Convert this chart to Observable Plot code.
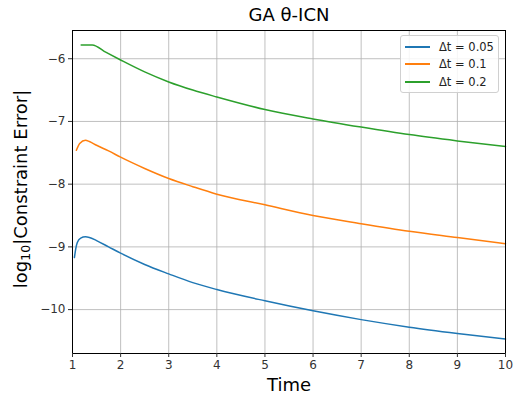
<!DOCTYPE html>
<html>
<head>
<meta charset="utf-8">
<script src="https://cdn.jsdelivr.net/npm/d3@7"></script>
<script src="https://cdn.jsdelivr.net/npm/@observablehq/plot@0.6"></script>
<style>
  body { margin: 0; background: #fff; font-family: "DejaVu Sans", sans-serif; }
  #wrap { position: relative; width: 515px; height: 396px; }
  #legend { position: absolute; left: 400px; top: 35px; width: 99px; height: 58px;
    border: 1px solid #d0d0d0; border-radius: 3px; background: rgba(255,255,255,0.85);
    font-size: 11.5px; color: #222; box-sizing: border-box; padding-top: 2px; }
  .row { display: flex; align-items: center; height: 17.5px; }
  .sw { display: inline-block; width: 25px; height: 2px; margin-left: 4px; margin-right: 9px; }
  #ylabel { position: absolute; left: 21px; top: 189px; transform: translate(-50%, -50%) rotate(-90deg);
    white-space: nowrap; font-size: 18px; color: #000; line-height: 1; }
  #ylabel sub { font-size: 12.5px; vertical-align: -3px; line-height: 0; }
</style>
</head>
<body>
<div id="wrap"><div id="chart"></div><div id="legend"></div><div id="ylabel"></div></div>
<script>
const seriesNames = ["Δt = 0.05", "Δt = 0.1", "Δt = 0.2"];
const seriesColors = ["#1f77b4", "#ff7f0e", "#2ca02c"];
const xTicks = [1, 2, 3, 4, 5, 6, 7, 8, 9, 10];
const yTicks = [-10, -9, -8, -7, -6];
const titleText = "GA θ-ICN";
const xLabel = "Time";
const yLabelParts = ["log", "10", "|Constraint Error|"];

const dt005_t = [1.04, 1.07, 1.1, 1.17, 1.27, 1.35, 1.5, 1.75, 2, 2.5, 3, 3.5, 4, 5, 6, 7, 8, 9, 10];
const dt005_e = [-9.17, -9.02, -8.93, -8.86, -8.84, -8.85, -8.9, -9.0, -9.1, -9.28, -9.43, -9.57, -9.68, -9.86, -10.02, -10.16, -10.28, -10.38, -10.47];

const dt01_t = [1.08, 1.15, 1.27, 1.35, 1.5, 1.75, 2, 2.5, 3, 3.5, 4, 5, 6, 7, 8, 9, 10];
const dt01_e = [-7.46, -7.35, -7.30, -7.32, -7.38, -7.47, -7.57, -7.75, -7.91, -8.04, -8.16, -8.33, -8.5, -8.63, -8.75, -8.85, -8.95];

const dt02_t = [1.18, 1.41, 1.7, 2, 2.5, 3, 3.5, 4, 5, 6, 7, 8, 9, 10];
const dt02_e = [-5.78, -5.78, -5.9, -6.02, -6.21, -6.37, -6.5, -6.61, -6.81, -6.96, -7.09, -7.21, -7.31, -7.40];

const rows = [];
[[dt005_t, dt005_e], [dt01_t, dt01_e], [dt02_t, dt02_e]].forEach(([t, e], i) => {
  t.forEach((x, j) => rows.push({series: seriesNames[i], t: x, e: e[j]}));
});

const fmt = d3.format("d");

const chart = Plot.plot({
  width: 515,
  height: 396,
  marginLeft: 72,
  marginRight: 10,
  marginTop: 30,
  marginBottom: 43,
  style: {fontFamily: "DejaVu Sans, sans-serif", fontSize: "12px", color: "#333", background: "#fff"},
  x: {domain: [1, 10], label: null},
  y: {domain: [-10.7, -5.55], label: null},
  color: {domain: seriesNames, range: seriesColors},
  marks: [
    Plot.gridX(xTicks, {stroke: "#b0b0b0", strokeOpacity: 0.8, strokeWidth: 1}),
    Plot.gridY(yTicks, {stroke: "#b0b0b0", strokeOpacity: 0.8, strokeWidth: 1}),
    Plot.line(rows, {x: "t", y: "e", z: "series", stroke: "series", strokeWidth: 1.5, curve: "monotone-x"}),
    Plot.frame({stroke: "#000", strokeWidth: 1}),
    Plot.axisX({ticks: xTicks, tickFormat: fmt, tickSize: 4, tickPadding: 3, label: null, fontSize: 12}),
    Plot.axisY({ticks: yTicks, tickFormat: fmt, tickSize: 4, tickPadding: 3, label: null, fontSize: 12}),
    Plot.text([titleText], {frameAnchor: "top", dy: -15, fontSize: 18, fill: "#000", lineAnchor: "middle"}),
    Plot.text([xLabel], {frameAnchor: "bottom", dy: 32, fontSize: 18, fill: "#000", lineAnchor: "middle"})
  ]
});
document.getElementById("chart").appendChild(chart);

const yl = document.getElementById("ylabel");
yl.appendChild(document.createTextNode(yLabelParts[0]));
const sub = document.createElement("sub");
sub.textContent = yLabelParts[1];
yl.appendChild(sub);
yl.appendChild(document.createTextNode(yLabelParts[2]));

const legend = document.getElementById("legend");
seriesNames.forEach((n, i) => {
  const r = document.createElement("div");
  r.className = "row";
  const sw = document.createElement("span");
  sw.className = "sw";
  sw.style.background = seriesColors[i];
  const tx = document.createElement("span");
  tx.textContent = n;
  r.appendChild(sw);
  r.appendChild(tx);
  legend.appendChild(r);
});
</script>
</body>
</html>
